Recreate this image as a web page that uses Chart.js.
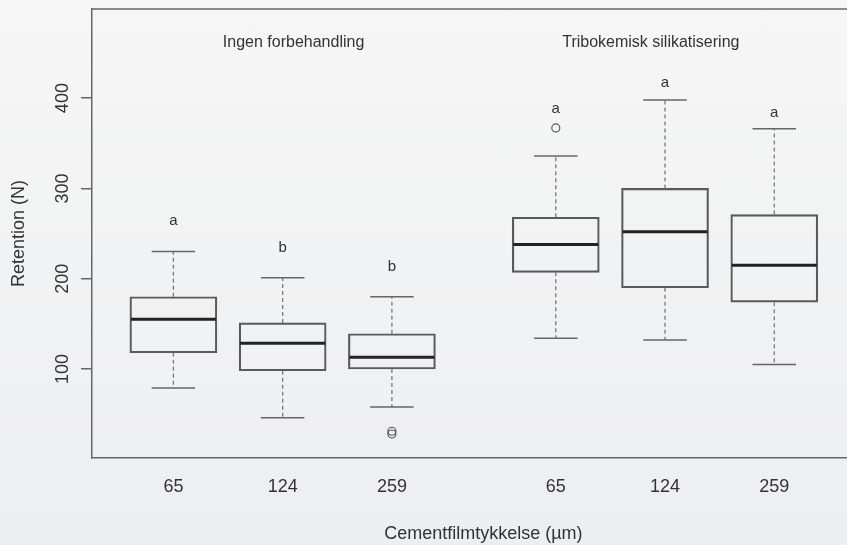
<!DOCTYPE html>
<html>
<head>
<meta charset="utf-8">
<script src="https://cdn.jsdelivr.net/npm/chart.js@4"></script>
<style>
  html, body { margin: 0; padding: 0; }
  body { background: linear-gradient(#f6f6f6, #edeef0); width: 847px; height: 545px; overflow: hidden; }
  /* the original plot region runs past the right edge of the picture */
  .chart-wrap { position: relative; width: 880px; height: 545px; }
</style>
</head>
<body>
<div class="chart-wrap"><canvas id="myChart"></canvas></div>
<script>
// boxplot summaries (Retention, N)
const groups = ['Ingen forbehandling', 'Tribokemisk silikatisering'];
const groupLabelX = [2.1, 5.37];
const groupLabelY = 461;
const thickness = ['65', '124', '259', '65', '124', '259'];
const positions = [1, 2, 3, 4.5, 5.5, 6.5];
const lowerWhisker = [79, 46, 58, 134, 132, 105];
const q1 = [118, 98, 100, 207, 190, 174];
const median = [155, 128.5, 113, 238, 252, 215];
const q3 = [180, 151, 139, 268, 300, 271];
const upperWhisker = [230, 201, 180, 336, 398, 366];
const outliers = [[], [], [31, 28], [367], [], []];
const letters = ['a', 'b', 'b', 'a', 'a', 'a'];
const letterY = [264, 234, 213, 388, 417, 384];
const yTicks = [100, 200, 300, 400];

const FONT = "'Liberation Sans', Arial, sans-serif";
const TEXT = '#333';
const LINE = '#5a5a5a';

const outlierPoints = [];
outliers.forEach((list, i) => list.forEach(v => outlierPoints.push({ x: positions[i], y: v })));

// whiskers, medians, letters and labels drawn on top of the boxes
const boxExtras = {
  id: 'boxExtras',
  afterDatasetsDraw(chart) {
    const { ctx, chartArea, scales: { x, y } } = chart;
    const boxes = chart.getDatasetMeta(0).data;
    ctx.save();

    boxes.forEach((bar, i) => {
      const cx = bar.x;
      const half = bar.width / 2;
      const cap = bar.width / 4;
      const yLo = y.getPixelForValue(lowerWhisker[i]);
      const yQ1 = y.getPixelForValue(q1[i]);
      const yQ3 = y.getPixelForValue(q3[i]);
      const yHi = y.getPixelForValue(upperWhisker[i]);

      // dashed whiskers
      ctx.strokeStyle = '#7a7a7a';
      ctx.lineWidth = 1.3;
      ctx.setLineDash([4, 3]);
      ctx.beginPath();
      ctx.moveTo(cx, yQ3); ctx.lineTo(cx, yHi);
      ctx.moveTo(cx, yQ1); ctx.lineTo(cx, yLo);
      ctx.stroke();

      // caps
      ctx.setLineDash([]);
      ctx.strokeStyle = '#666';
      ctx.lineWidth = 1.5;
      ctx.beginPath();
      ctx.moveTo(cx - cap, yHi); ctx.lineTo(cx + cap, yHi);
      ctx.moveTo(cx - cap, yLo); ctx.lineTo(cx + cap, yLo);
      ctx.stroke();

      // median
      const yMed = y.getPixelForValue(median[i]);
      ctx.strokeStyle = '#222';
      ctx.lineWidth = 3;
      ctx.beginPath();
      ctx.moveTo(cx - half + 1, yMed); ctx.lineTo(cx + half - 1, yMed);
      ctx.stroke();

      // significance letters
      ctx.fillStyle = TEXT;
      ctx.font = '15px ' + FONT;
      ctx.textAlign = 'center';
      ctx.textBaseline = 'middle';
      ctx.fillText(letters[i], cx, y.getPixelForValue(letterY[i]));
    });

    // group headings
    ctx.font = '16px ' + FONT;
    groups.forEach((g, i) => {
      ctx.fillText(g, x.getPixelForValue(groupLabelX[i]), y.getPixelForValue(groupLabelY));
    });

    // rotated y tick labels, R style
    ctx.font = '18px ' + FONT;
    ctx.textBaseline = 'alphabetic';
    yTicks.forEach(v => {
      ctx.save();
      ctx.translate(chartArea.left - 24, y.getPixelForValue(v));
      ctx.rotate(-Math.PI / 2);
      ctx.fillText(String(v), 0, 0);
      ctx.restore();
    });

    // top frame line
    ctx.strokeStyle = '#666';
    ctx.lineWidth = 1.5;
    ctx.beginPath();
    ctx.moveTo(chartArea.left, chartArea.top);
    ctx.lineTo(chartArea.right, chartArea.top);
    ctx.stroke();

    ctx.restore();
  }
};

const ctx = document.getElementById('myChart').getContext('2d');
new Chart(ctx, {
  type: 'bar',
  data: {
    datasets: [
      {
        label: 'IQR',
        data: positions.map((p, i) => ({ x: p, y: [q1[i], q3[i]] })),
        backgroundColor: 'rgba(0,0,0,0)',
        borderColor: LINE,
        borderWidth: 1.5,
        borderSkipped: false,
        barThickness: 87,
      },
      {
        type: 'scatter',
        label: 'Outliers',
        data: outlierPoints,
        pointRadius: 4,
        pointBackgroundColor: 'rgba(0,0,0,0)',
        pointBorderColor: '#555',
        pointBorderWidth: 1.2,
      },
    ],
  },
  options: {
    responsive: true,
    maintainAspectRatio: false,
    animation: false,
    layout: { padding: { top: 9, left: 0, right: 0, bottom: 0 } },
    plugins: { legend: { display: false }, tooltip: { enabled: false } },
    scales: {
      x: {
        type: 'linear',
        offset: false,
        min: 0.255,
        max: 7.42,
        afterFit: (scale) => { scale.height = 87; scale.paddingLeft = 0; scale.paddingRight = 0; },
        afterBuildTicks: (scale) => { scale.ticks = positions.map(v => ({ value: v })); },
        grid: { display: false },
        border: { display: true, color: '#666', width: 1.5 },
        ticks: {
          callback: (value, index) => thickness[index],
          color: TEXT,
          font: { family: FONT, size: 18 },
          padding: 10,
          maxRotation: 0,
          autoSkip: false,
        },
        title: {
          display: true,
          text: 'Cementfilmtykkelse (\u00b5m)',
          color: TEXT,
          font: { family: FONT, size: 18 },
          padding: { top: 0, bottom: 0 },
        },
      },
      y: {
        min: 1.4,
        max: 498.7,
        afterFit: (scale) => { scale.width = 92; },
        afterBuildTicks: (scale) => { scale.ticks = yTicks.map(v => ({ value: v })); },
        grid: { drawOnChartArea: false, drawTicks: true, tickLength: 11, color: '#666', lineWidth: 1.5 },
        border: { display: true, color: '#666', width: 1.5 },
        ticks: { display: false },
        title: {
          display: true,
          text: 'Retention (N)',
          color: TEXT,
          font: { family: FONT, size: 18 },
          padding: { top: 8, bottom: 0 },
        },
      },
    },
  },
  plugins: [boxExtras],
});
</script>
</body>
</html>
